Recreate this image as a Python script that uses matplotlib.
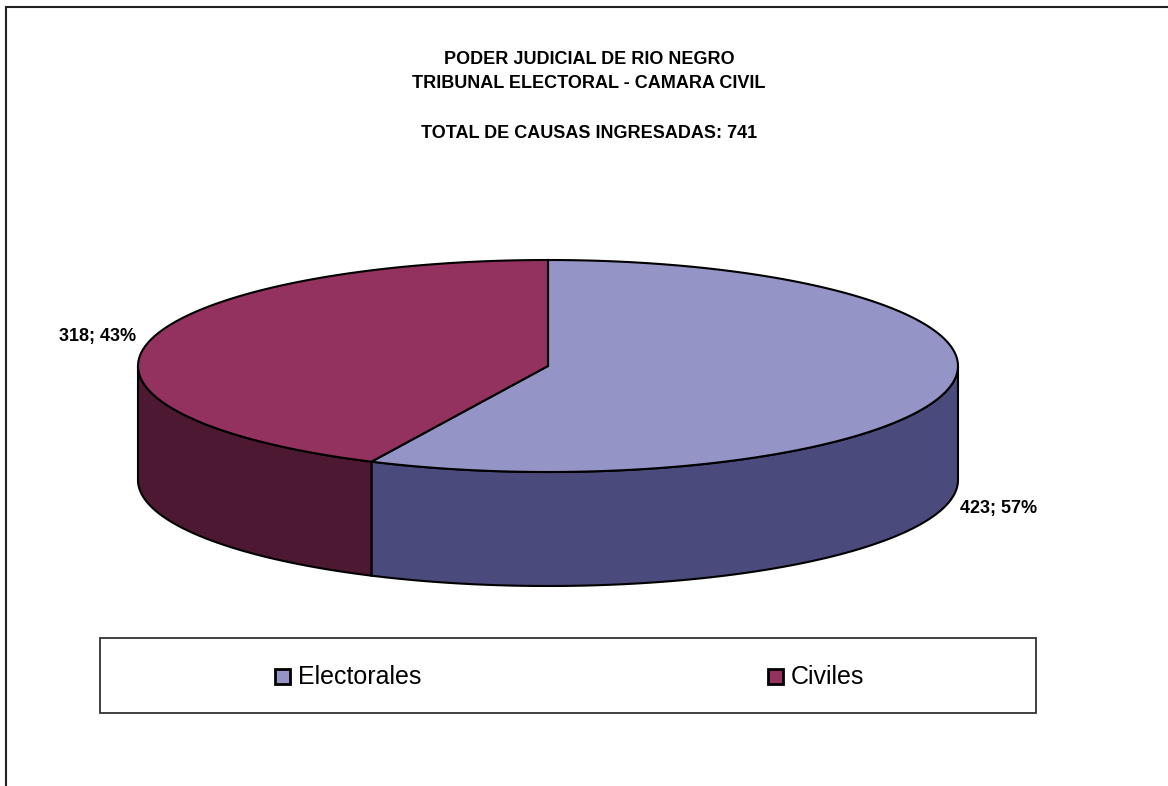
import numpy as np
import matplotlib
matplotlib.use('Agg')
import matplotlib.pyplot as plt
from matplotlib.patches import Polygon, Rectangle

# datos del grafico
categorias = ['Electorales', 'Civiles']
valores = [423, 318]
colores_sup = ['#9494C6', '#93325E']
colores_lat = ['#4A4A7C', '#4D1832']
titulo = ['PODER JUDICIAL DE RIO NEGRO', 'TRIBUNAL ELECTORAL - CAMARA CIVIL']

plt.rcParams['font.family'] = ['Liberation Sans', 'DejaVu Sans']

W, H = 1168, 786
fig = plt.figure(figsize=(W / 100, H / 100), dpi=100)
ax = fig.add_axes([0, 0, 1, 1])
ax.set_xlim(0, W)
ax.set_ylim(H, 0)
ax.axis('off')

# geometria de la torta 3D (pixeles)
cx, cy = 548, 366
a, b = 410, 106
prof = 114


def arco(t1, t2, dz=0, n=200):
    t = np.linspace(t1, t2, n)
    return np.column_stack([cx + a * np.sin(t), cy - b * np.cos(t) + dz])


total = sum(valores)
fracs = np.array(valores) / total
limites = np.concatenate([[0], np.cumsum(fracs)]) * 2 * np.pi

# caras laterales (solo la mitad delantera)
for i in range(len(valores)):
    t1 = max(limites[i], np.pi / 2)
    t2 = min(limites[i + 1], 3 * np.pi / 2)
    if t2 <= t1:
        continue
    sup = arco(t1, t2)
    inf = arco(t1, t2, prof)[::-1]
    ax.add_patch(Polygon(np.vstack([sup, inf]), closed=True,
                         facecolor=colores_lat[i], edgecolor='black', lw=1.5))

# caras superiores
for i in range(len(valores)):
    pts = np.vstack([[cx, cy], arco(limites[i], limites[i + 1])])
    ax.add_patch(Polygon(pts, closed=True, facecolor=colores_sup[i],
                         edgecolor='black', lw=1.5, joinstyle='miter'))

# etiquetas de datos
for i in range(len(valores)):
    m = (limites[i] + limites[i + 1]) / 2
    x, y = arco(m, m, n=1)[0]
    x += 51 * np.sign(np.sin(m))
    y += prof + 5 if np.cos(m) < 0 else -6
    ax.text(x, y, f'{valores[i]}; {fracs[i]:.0%}', ha='center', va='center',
            fontsize=13, fontweight='bold')

# titulo
ax.text(589, 59, titulo[0], ha='center', va='center', fontsize=13, fontweight='bold')
ax.text(589, 84, titulo[1], ha='center', va='center', fontsize=13, fontweight='bold')
ax.text(589, 133, f'TOTAL DE CAUSAS INGRESADAS: {total}', ha='center', va='center',
        fontsize=13, fontweight='bold')

# leyenda
ax.add_patch(Rectangle((100, 638), 936, 75, facecolor='white', edgecolor='#333333', lw=1.3))
pos_ley = [274, 767]
for i, cat in enumerate(categorias):
    ax.add_patch(Rectangle((pos_ley[i] + 1, 669), 15, 15, facecolor=colores_sup[i],
                           edgecolor='black', lw=2))
    ax.text(pos_ley[i] + 24, 676.5, cat, ha='left', va='center', fontsize=18)

# marco del area del grafico
ax.plot([6, 6, W], [H, 7, 7], color='#222222', lw=1.5, solid_joinstyle='miter')

fig.savefig('out.png', dpi=100)
